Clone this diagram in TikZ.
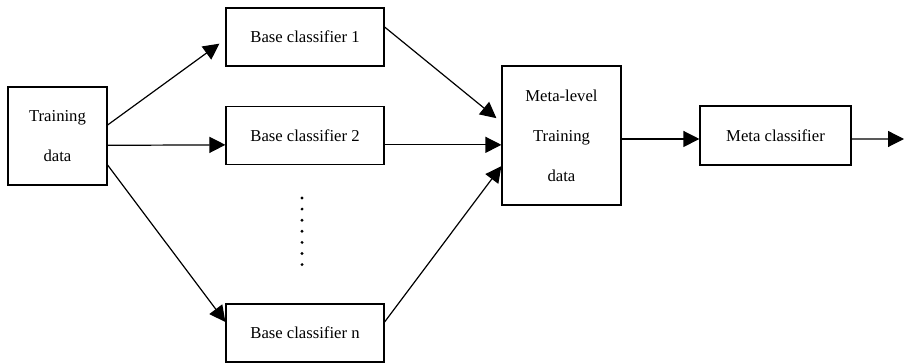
\documentclass[tikz,border=0pt]{standalone}
\usepackage{fontspec}
\setmainfont{Liberation Serif}
\usepackage{tikz}
\usetikzlibrary{arrows.meta}

\begin{document}
\begin{tikzpicture}[x=0.75pt, y=-0.75pt, line width=0.9pt,
    every node/.style={draw, rectangle, inner sep=0pt, align=center,
      font=\fontsize{12.5}{30}\selectfont},
    flecha/.style={-{Triangle[length=12pt, width=12pt]}}]
          \useasboundingbox (0,0) rectangle (904,364);

          % Nodos
          \node[minimum width=74.25pt, minimum height=73.5pt] (train) at (57.5,136) {Training\\data};
          \node[minimum width=118.5pt, minimum height=43.5pt] (b1) at (305,37) {Base classifier 1};
          \node[minimum width=118.5pt, minimum height=43.5pt] (b2) at (305,135.5) {Base classifier 2};
          \node[minimum width=118.5pt, minimum height=43.5pt] (bn) at (305,333) {Base classifier n};
          \node[minimum width=89.25pt, minimum height=104.25pt] (meta) at (561.5,135.5) {Meta-level\\Training\\data};
          \node[minimum width=113.25pt, minimum height=44.25pt] (mc) at (775.5,135.5) {Meta classifier};
          \coordinate (out) at (904,139);

          % Puntos
          \foreach \i in {0,...,6}
            \fill (302,198+11.1*\i) circle (1.2pt);

          % Aristas
          \draw[flecha] ([yshift=8.25pt]train.east) -- ([xshift=-4.5pt, yshift=-5pt]b1.west);
          \draw[flecha] ([yshift=-7pt]train.east) -- ([yshift=-7pt]b2.west);
          \draw[flecha] ([yshift=-21.75pt]train.east) -- ([yshift=8.25pt]bn.west);
          \draw[flecha] ([yshift=7.5pt]b1.east) -- ([xshift=-3.75pt, yshift=13pt]meta.west);
          \draw[flecha] ([yshift=-7pt]b2.east) -- ([yshift=-7pt]meta.west);
          \draw[flecha] ([yshift=8.25pt]bn.east) -- ([yshift=-23pt]meta.west);
          \draw[flecha] ([yshift=-2.6pt]meta.east) -- ([yshift=-2.6pt]mc.west);
          \draw[flecha] ([yshift=-2.6pt]mc.east) -- (out);

        \end{tikzpicture}
\end{document}
